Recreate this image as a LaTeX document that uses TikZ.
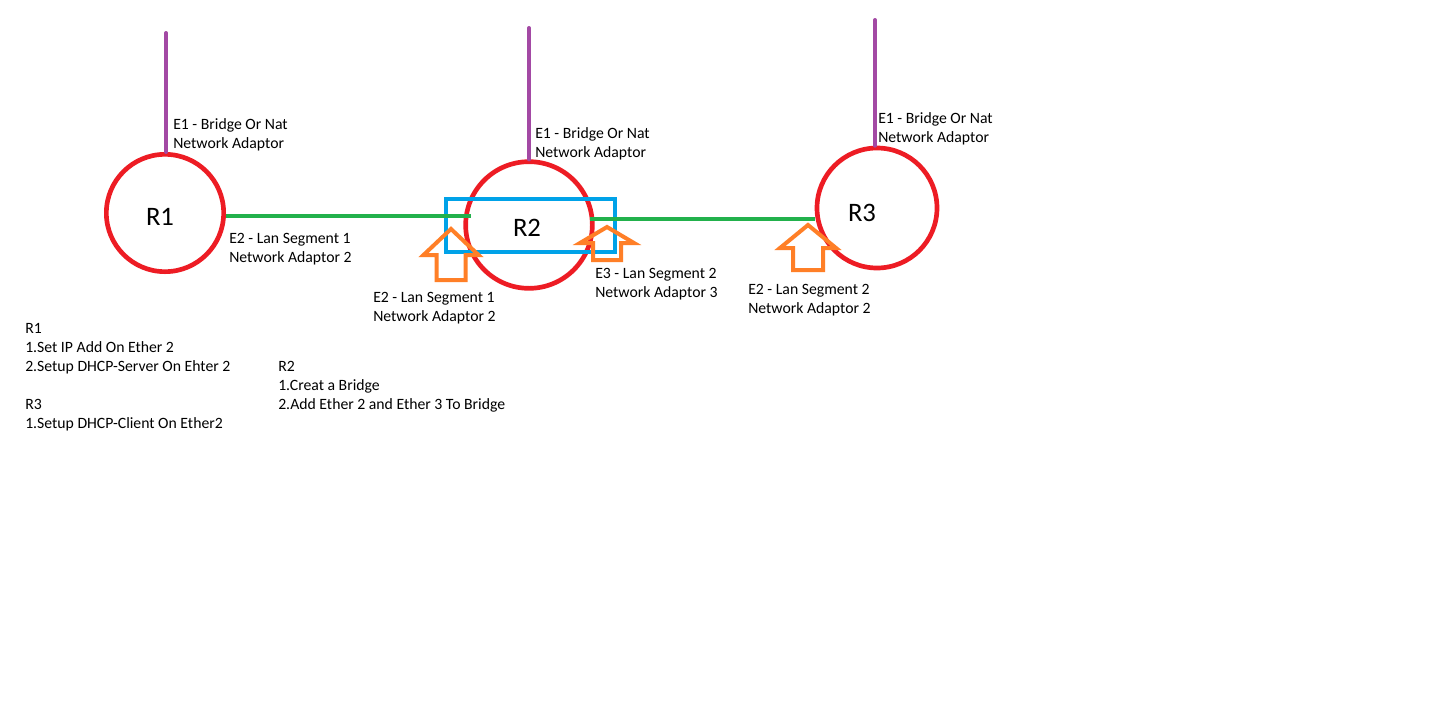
\documentclass[tikz,border=0pt]{standalone}
\usepackage{fontspec}
\setmainfont{Carlito}
\usepackage{tikz}
\definecolor{PaintRed}{RGB}{237,28,36}
\definecolor{PaintGreen}{RGB}{34,177,76}
\definecolor{PaintPurple}{RGB}{163,73,164}
\definecolor{PaintBlue}{RGB}{0,162,232}
\definecolor{PaintOrange}{RGB}{255,127,39}

\begin{document}
\begin{tikzpicture}[
  x=0.75pt, y=-0.75pt,
  router/.style={draw=PaintRed, line width=3.5pt, circle, inner sep=0pt},
  rname/.style={font=\fontsize{20}{24}\selectfont, inner sep=0pt},
  uplink/.style={draw=PaintPurple, line width=3pt, line cap=round},
  lan/.style={draw=PaintGreen, line width=3pt},
  bridgebox/.style={draw=PaintBlue, line width=3pt},
  portarrow/.style={draw=PaintOrange, line width=3pt, line join=miter},
  note/.style={font=\fontsize{11.8}{14.25}\selectfont, align=left, anchor=north west, inner sep=0pt}
]
\useasboundingbox[fill=white] (0,0) rectangle (1434,718);

% routers
\node[router, minimum size=88pt] (R1) at (165,213) {};
\node[router, minimum size=95pt] (R2) at (529,225) {};
\node[router, minimum size=90pt] (R3) at (877,208) {};
\node[rname] (R1t) at (160,217) {R1};
\node[rname] (R2t) at (527,228) {R2};
\node[rname] (R3t) at (862,213) {R3};

% bridge on R2
\draw[bridgebox] (446,199) rectangle (615,252);

% lan segments
\coordinate (p2w) at (471,216);
\coordinate (p2e) at (590,219);
\draw[lan] (R1.east |- p2w) -- (p2w);
\draw[lan] (p2e) -- (R3.west |- p2e);

% uplinks
\coordinate (R1up) at (166,33);
\coordinate (R2up) at (529,28);
\coordinate (R3up) at (875,20);
\draw[uplink] (R1up) -- (R1up |- R1.north);
\draw[uplink] (R2up) -- (R2up |- R2.north);
\draw[uplink] (R3up) -- (R3up |- R3.north);

% port arrows
\coordinate (a2w) at (451,229);
\coordinate (a2e) at (607,227);
\coordinate (a3w) at (808,225);
\draw[portarrow] (a2w) -- ++(27.5,26) -- ++(-13,0) -- ++(0,25) -- ++(-29,0) -- ++(0,-25) -- ++(-13,0) -- cycle;
\draw[portarrow] (a2e) -- ++(27,16) -- ++(-13,0) -- ++(0,17) -- ++(-28,0) -- ++(0,-17) -- ++(-13,0) -- cycle;
\draw[portarrow] (a3w) -- ++(28,23) -- ++(-13,0) -- ++(0,22) -- ++(-30,0) -- ++(0,-22) -- ++(-13,0) -- cycle;

% labels
\node[note] (e1a) at (173,118) {E1 - Bridge Or Nat\\Network Adaptor};
\node[note] (e1b) at (535,127) {E1 - Bridge Or Nat\\Network Adaptor};
\node[note] (e1c) at (878,112) {E1 - Bridge Or Nat\\Network Adaptor};
\node[note] (e2a) at (229,233) {E2 - Lan Segment 1\\Network Adaptor 2};
\node[note] (e2b) at (373,292) {E2 - Lan Segment 1\\Network Adaptor 2};
\node[note] (e3b) at (595,268) {E3 - Lan Segment 2\\Network Adaptor 3};
\node[note] (e2c) at (748,284) {E2 - Lan Segment 2\\Network Adaptor 2};

% setup notes
\node[note] (notes13) at (25,323) {R1\\1.Set IP Add On Ether 2\\2.Setup DHCP-Server On Ehter 2\\[14.25pt]R3\\1.Setup DHCP-Client On Ether2};
\node[note] (notes2) at (278,361) {R2\\1.Creat a Bridge\\2.Add Ether 2 and Ether 3 To Bridge};
\end{tikzpicture}
\end{document}
